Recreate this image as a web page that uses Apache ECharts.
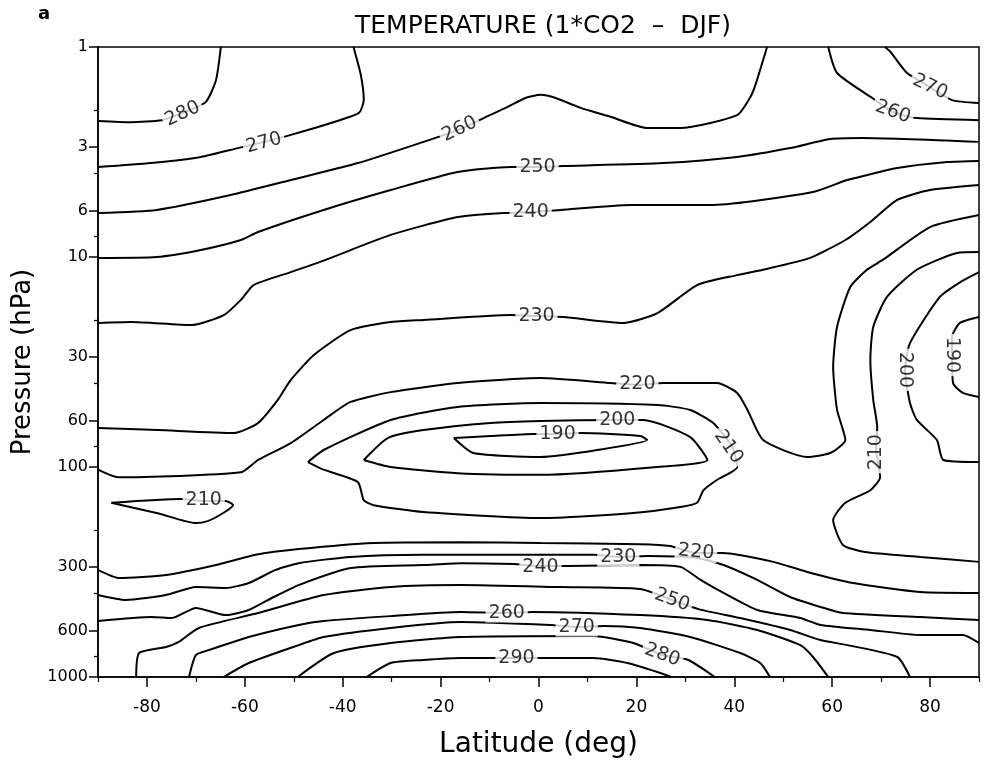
<!DOCTYPE html>
<html>
<head>
<meta charset="utf-8">
<title>TEMPERATURE (1*CO2 - DJF)</title>
<script src="https://cdn.jsdelivr.net/npm/echarts@6/dist/echarts.min.js"></script>
<style>
  html, body { margin: 0; padding: 0; background: #fff; }
  #chart { width: 987px; height: 773px; }
</style>
</head>
<body>
<div id="chart"></div>
<script>
// contour lines, each point is [latitude (deg), pressure (hPa)]
const c280Top = [[-90, 2.25], [-83.3, 2.28], [-77, 2.23], [-72.7, 2.06], [-68, 1.83], [-65.9, 1.44], [-64.9, 1]];
const c270Left = [[-90, 3.73], [-79.2, 3.57], [-69, 3.34], [-61.4, 3.03], [-56.1, 2.83], [-50.6, 2.62], [-42.4, 2.3], [-36.7, 2.06], [-35.7, 1.79], [-36.3, 1.36], [-37.8, 1]];
const c270Right = [[70.8, 1], [72, 1.06], [75.3, 1.33], [80, 1.55], [84.5, 1.79], [90, 1.85]];
const c260Right = [[59.2, 1], [61, 1.33], [68.2, 1.75], [72.4, 2.04], [77.3, 2.18], [90, 2.23]];
const c260Main = [[-90, 6.17], [-78, 5.97], [-62.9, 5.07], [-50.6, 4.3], [-36.9, 3.57], [-23.5, 2.83], [-15.9, 2.46], [-11.2, 2.18], [-6.3, 1.93], [-2.7, 1.75], [0.4, 1.69], [3.5, 1.75], [8.6, 1.95], [14.7, 2.15], [22.2, 2.43], [29, 2.43], [40.6, 2.11], [43.3, 1.73], [44.3, 1.52], [46.7, 1]];
const c250Upper = [[-90, 10.1], [-78, 10], [-69, 9.26], [-60.8, 8.3], [-57.3, 7.6], [-43.9, 5.97], [-30.2, 4.8], [-16.5, 3.94], [-5.7, 3.73], [-0.2, 3.73], [5.1, 3.69], [25.5, 3.57], [40.6, 3.34], [51.4, 3.03], [59.6, 2.74], [66.3, 2.71], [90, 2.83]];
const c240Upper = [[-90, 20.6], [-83.3, 20.4], [-71, 21.1], [-64.3, 18.9], [-60.8, 16], [-58.2, 13.6], [-50.6, 11.8], [-43.9, 10.4], [-30.2, 7.85], [-16.5, 6.45], [-7.1, 6.17], [-1.6, 6.11], [4.5, 5.97], [18.8, 5.65], [35.7, 5.65], [56.1, 4.9], [63.1, 4.3], [73.3, 3.77], [83.5, 3.53], [90, 3.49]];
const c230Upper = [[-90, 65.2], [-77.8, 66.7], [-62.2, 68.9], [-57.3, 61.7], [-53.3, 48], [-50.6, 38.5], [-45.9, 29.3], [-38.4, 22.3], [-30.2, 20.4], [-23.5, 19.95], [-5.7, 18.9], [-0.4, 19.1], [5.1, 19.3], [17.3, 20.6], [24.3, 18.5], [32.4, 13.6], [40.6, 12.2], [45.9, 11.5], [55.5, 10.1], [62.7, 8.3], [67.8, 6.81], [73.3, 5.35], [80, 4.8], [90, 4.54]];
const c220Upper = [[-90, 103], [-85.9, 112], [-60.8, 106], [-57.3, 92.6], [-50.6, 76.9], [-43.9, 59.7], [-38.4, 49], [-30.2, 44], [-16.5, 39.8], [0.4, 37.7], [14.7, 39.8], [20.2, 40.7], [25.5, 39.8], [36.5, 39.8], [40.6, 44.4], [42.7, 53.5], [45.9, 74.4], [54.9, 89.6], [59.6, 85.8], [62.7, 74.4], [61, 53.5], [60.2, 33.4], [61, 21.5], [63.7, 13.9], [67.1, 11.5], [70.4, 10.3], [80, 7.2], [90, 6.31]];
const c210Center = [[-47.1, 94.7], [-43.9, 83], [-30.2, 59.7], [-16.5, 51.8], [0.4, 49.6], [24.3, 50.7], [31, 53.5], [35.7, 61.7], [39.6, 80.3], [40.6, 100], [36.5, 115], [33.7, 129], [32.4, 148], [29, 155], [18.8, 166], [0.4, 175], [-23.5, 164], [-33.7, 152], [-35.7, 144], [-36.9, 118], [-43.9, 103], [-47.1, 94.7]];
const c200Center = [[-35.7, 92.6], [-30.8, 72.8], [-23.5, 66.7], [-9.8, 61.7], [0.4, 60.4], [16.1, 59.7], [21.4, 59.7], [31, 72], [34.5, 92.6], [24.3, 100], [0.4, 109], [-16.5, 107], [-30.2, 100], [-35.7, 92.6]];
const c190Center = [[-17.3, 72.8], [-9.8, 71.2], [-1, 69.6], [3.7, 69.6], [8.6, 68.9], [20.8, 71.2], [22.2, 74.4], [12, 83], [0.4, 89.6], [-13.3, 85.8], [-17.3, 72.8]];
const c210Small = [[-87.3, 148], [-73.1, 142], [-68.4, 145], [-63.9, 145], [-62.4, 152], [-64.5, 166], [-67.6, 181], [-70, 185], [-77.8, 166], [-87.3, 148]];
const c210Right = [[90, 9.47], [85.5, 9.57], [77.3, 11.5], [71.2, 15.5], [68.4, 21.5], [67.8, 30.9], [68.4, 48], [69.2, 64.5], [69, 83], [69.8, 112], [67.8, 129], [62.7, 148], [60.2, 179], [62.2, 235], [66.7, 254], [78, 268], [90, 283]];
const c200Right = [[90, 11.8], [86.1, 13.2], [82, 15.5], [75.9, 25.7], [74.9, 34.5], [75.9, 49.6], [77.3, 59.7], [81.4, 74.4], [82.7, 92.6], [90, 94.7]];
const c190Right = [[90, 19.3], [86.1, 20.6], [84.5, 24], [84.5, 29.3], [84.7, 39.8], [86.7, 44.4], [90, 46.4]];
const c220Lower = [[-90, 309], [-85.7, 338], [-76.1, 327], [-65.9, 293], [-57.8, 262], [-49, 246], [-33.7, 230], [-15.9, 228], [0.4, 230], [20.8, 233], [26.9, 238], [32.2, 257], [37.6, 257], [48, 283], [54.9, 316], [64.3, 357], [78, 394], [90, 398]];
const c230Lower = [[-90, 407], [-84.3, 430], [-76.1, 407], [-70, 373], [-63.9, 377], [-59.2, 357], [-53.7, 309], [-49, 287], [-38.4, 268], [-23.5, 262], [11.2, 262], [16.3, 268], [22.2, 265], [32.4, 271], [37.8, 293], [44.7, 345], [51.4, 416], [57.6, 464], [62.2, 496], [78, 518], [90, 535]];
const c240Lower = [[-90, 541], [-79, 518], [-74.9, 524], [-70, 469], [-63.9, 507], [-59.2, 480], [-54.1, 416], [-49, 365], [-38.4, 303], [-23.5, 293], [-15.9, 287], [-5.1, 290], [0.4, 296], [5.9, 296], [20.8, 293], [29, 299], [33.1, 345], [37.8, 398], [44.7, 480], [53.5, 524], [57.6, 565], [67.8, 597], [78, 631], [86.7, 631], [90, 689]];
const c250Lower = [[-82.2, 1000], [-81.6, 769], [-76.1, 720], [-73.5, 681], [-69.4, 584], [-57.3, 496], [-43.9, 407], [-30.2, 373], [-15.9, 365], [4.5, 373], [20.8, 381], [27.3, 430], [32.7, 475], [41.2, 524], [51.4, 597], [57.6, 667], [63.1, 705], [73.3, 803], [75.9, 1000]];
const c260Lower = [[-71.4, 1000], [-70, 786], [-67.3, 744], [-59.2, 645], [-49, 565], [-43.9, 541], [-30.2, 513], [-15.9, 490], [-6.5, 496], [-1.2, 490], [20.8, 507], [34.5, 535], [44.7, 597], [53.5, 705], [56.1, 803], [59.2, 1000]];
const c270Lower = [[-64.3, 1000], [-59.2, 858], [-49, 705], [-43.9, 645], [-30.2, 584], [-15.9, 547], [2.4, 565], [7.8, 578], [13.3, 571], [20.8, 584], [31, 645], [41.2, 769], [45.3, 858], [47.3, 1000]];
const c280Lower = [[-49.2, 1000], [-41.8, 769], [-30.2, 689], [-15.9, 645], [11.2, 638], [19.4, 689], [25.3, 786], [30.6, 830], [36, 1000]];
const c290Lower = [[-35.1, 1000], [-30.2, 858], [-23.5, 830], [-15.9, 812], [-4.5, 812], [11.2, 812], [18.2, 858], [24.9, 957], [27.1, 1000]];

const contours = [c280Top, c270Left, c270Right, c260Right, c260Main, c250Upper, c240Upper, c230Upper,
  c220Upper, c210Center, c200Center, c190Center, c210Small, c210Right, c200Right, c190Right,
  c220Lower, c230Lower, c240Lower, c250Lower, c260Lower, c270Lower, c280Lower, c290Lower];

// inline contour labels
const labelLat = [-72.7, -56.1, -16.1, -0.2, -1.6, -0.4, 20.2, 16.1, 3.9, 38.8, 80, 72.4, 69, 74.9, 84.5, -68.4, 32.2, 16.3, 0.4, 27.3, -6.5, 7.8, 25.3, -4.5];
const labelP = [2.08, 2.87, 2.46, 3.73, 6.11, 19.1, 40.3, 59.7, 69.6, 80.3, 1.55, 2.04, 85, 34.5, 29.3, 143, 254, 268, 299, 430, 496, 578, 786, 812];
const labelText = ['280', '270', '260', '250', '240', '230', '220', '200', '190', '210', '270', '260', '210', '200', '190', '210', '220', '230', '240', '250', '260', '270', '280', '290'];
const labelRot = [25, 15, 25, 0, 0, 0, 0, 0, 0, -55, -25, -20, 90, -90, -90, 0, -5, 0, 0, -20, 0, 0, -20, 0];

// axis ticks
const latTicks = [-80, -60, -40, -20, 0, 20, 40, 60, 80];
const latMinor = [-90, -70, -50, -30, -10, 10, 30, 50, 70, 90];
const pTicks = [1, 3, 6, 10, 30, 60, 100, 300, 600, 1000];
const pMinor = [2, 4, 8, 20, 40, 80, 200, 400, 800];

const font = 'DejaVu Sans';
const myChart = echarts.init(document.getElementById('chart'));

const lineSeries = contours.map((c) => ({
  type: 'line',
  data: c,
  showSymbol: false,
  smooth: 0.2,
  silent: true,
  lineStyle: { color: '#000', width: 2 },
  z: 2,
}));

const labelSeries = {
  type: 'scatter',
  symbolSize: 0,
  silent: true,
  z: 5,
  data: labelText.map((t, i) => ({
    name: t,
    value: [labelLat[i], labelP[i]],
    label: { rotate: labelRot[i] },
  })),
  label: {
    show: true,
    position: 'inside',
    formatter: '{b}',
    color: '#000',
    textBorderWidth: 0,
    fontFamily: font,
    fontSize: 19,
    backgroundColor: '#fff',
    padding: [0, 3],
  },
};

const option = {
  animation: false,
  backgroundColor: '#fff',
  title: {
    text: 'TEMPERATURE (1*CO2  \u2013  DJF)',
    left: 538,
    textAlign: 'center',
    top: 9,
    textStyle: { fontFamily: font, fontSize: 25, fontWeight: 'normal', color: '#000' },
  },
  graphic: [{
    type: 'text',
    left: 38,
    top: 5,
    style: { text: 'a', fontFamily: font, fontSize: 18, fontWeight: 'bold', fill: '#000' },
  }],
  grid: {
    left: 98, right: 8, top: 47, bottom: 96,
    show: true, borderColor: '#000', borderWidth: 1.5,
  },
  xAxis: [{
    type: 'value',
    min: -90,
    max: 90,
    position: 'bottom',
    name: 'Latitude (deg)',
    nameLocation: 'middle',
    nameGap: 54,
    nameTextStyle: { fontFamily: font, fontSize: 28, color: '#000' },
    axisLine: { onZero: false, lineStyle: { color: '#000', width: 1.5 } },
    axisTick: { customValues: latTicks, length: 10, lineStyle: { color: '#000', width: 1.5 } },
    axisLabel: { customValues: latTicks, margin: 22, fontFamily: font, fontSize: 17, color: '#000' },
    splitLine: { show: false },
  }, {
    type: 'value',
    min: -90,
    max: 90,
    position: 'bottom',
    axisLine: { show: false, onZero: false },
    axisTick: { customValues: latMinor, length: 5, lineStyle: { color: '#000', width: 1.2 } },
    axisLabel: { show: false },
    splitLine: { show: false },
  }],
  yAxis: [{
    type: 'log',
    logBase: 10,
    min: 1,
    max: 1000,
    inverse: true,
    position: 'left',
    name: 'Pressure (hPa)',
    nameLocation: 'middle',
    nameGap: 57,
    nameTextStyle: { fontFamily: font, fontSize: 26, color: '#000' },
    axisLine: { onZero: false, lineStyle: { color: '#000', width: 1.5 } },
    axisTick: { customValues: pTicks, length: 9, lineStyle: { color: '#000', width: 1.5 } },
    axisLabel: { customValues: pTicks, margin: 10, fontFamily: font, fontSize: 16, color: '#000', formatter: (v) => String(v) },
    splitLine: { show: false },
  }, {
    type: 'log',
    logBase: 10,
    min: 1,
    max: 1000,
    inverse: true,
    position: 'left',
    axisLine: { show: false, onZero: false },
    axisTick: { customValues: pMinor, length: 4, lineStyle: { color: '#000', width: 1.2 } },
    axisLabel: { show: false },
    splitLine: { show: false },
  }],
  series: lineSeries.concat([labelSeries]),
};

myChart.setOption(option);
</script>
</body>
</html>
